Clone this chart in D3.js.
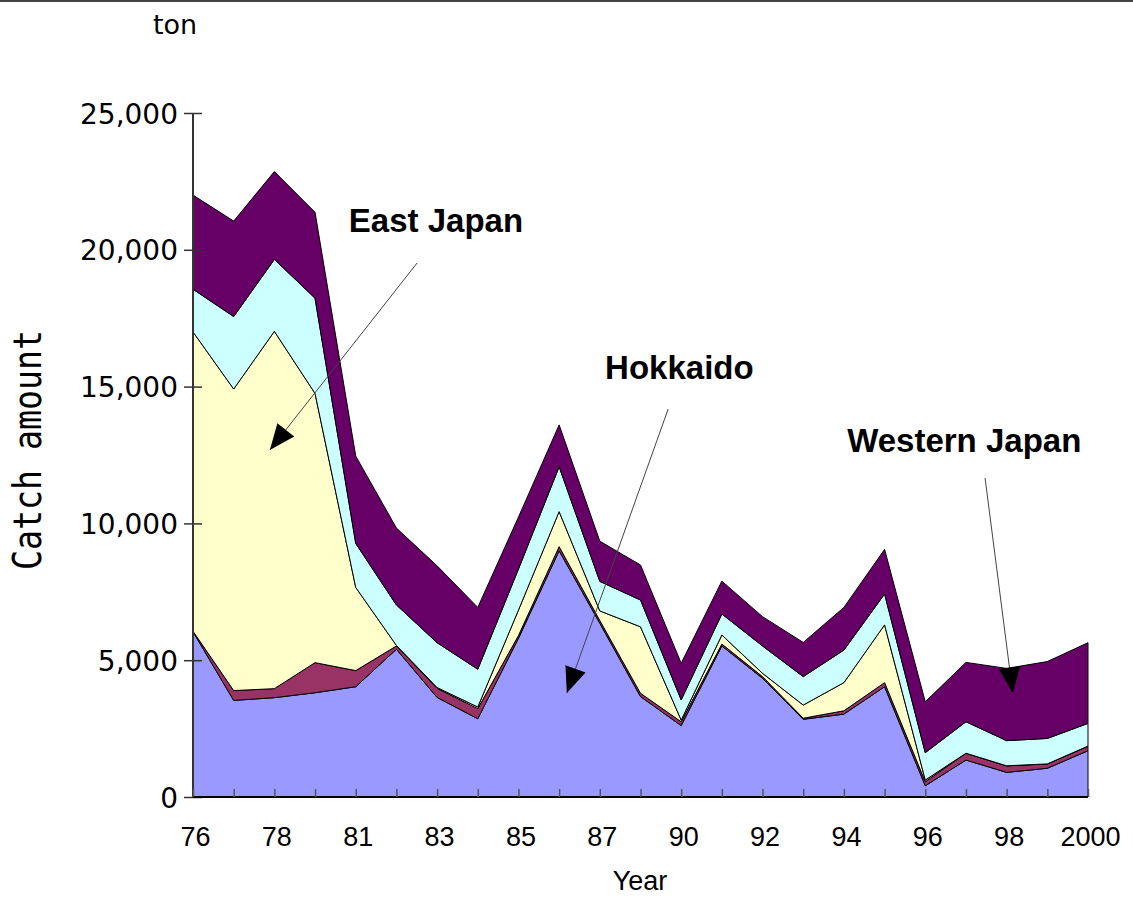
<!DOCTYPE html>
<html><head><meta charset="utf-8">
<script src="https://cdn.jsdelivr.net/npm/d3@7/dist/d3.min.js"></script>
<style>body{margin:0;background:#fff}svg{display:block}</style>
</head><body><svg id="c" width="1133" height="898"></svg>
<script>
// ---- data ----
const years = ["76","77","78","79","81","82","83","84","85","86","87","88","90","91","92","93","94","95","96","97","98","99","2000"];
const tickLabels = ["76","78","81","83","85","87","90","92","94","96","98","2000"];
const yTicks = [0, 5000, 10000, 15000, 20000, 25000];
const hokkaido     = [6040,3530,3630,3810,4030,5400,3640,2860,5800,9000,6350,3670,2610,5520,4340,2840,3030,4030,410,1350,900,1050,1690];
const otherA       = [20,360,330,1100,590,120,330,370,100,150,100,120,140,70,60,40,120,150,150,250,240,160,170];
const eastJapan    = [10940,11020,13060,9840,3040,20,30,60,930,1280,350,2430,60,330,120,480,1030,2110,60,0,0,0,0];
const otherB       = [1560,2650,2630,3480,1610,1480,1640,1380,1500,1640,1080,980,740,770,1000,1040,1190,1130,1000,1150,920,930,830];
const westernJapan = [3440,3490,3210,3140,3190,2810,2810,2260,1900,1530,1470,1280,1340,1200,1070,1250,1560,1630,1860,2170,2640,2810,2950];
const seriesKeys = ["Hokkaido","OtherA","East Japan","OtherB","Western Japan"];
const seriesValues = [hokkaido, otherA, eastJapan, otherB, westernJapan];
const colors = ["#9999FF","#993366","#FFFFCC","#CCFFFF","#660066"];
// annotations: label, label position (category index, value), line start, arrow tip
const annotations = [
  {text:"East Japan",    lx:[3.83, 20650], from:[5.51, 19520], to:[1.89, 12680]},
  {text:"Hokkaido",      lx:[10.13, 15280], from:[11.68, 14180], to:[9.19, 3800]},
  {text:"Western Japan", lx:[16.08, 12610], from:[19.47, 11660], to:[20.15, 3800]}
];

// ---- build ----
const table = years.map((yr, i) => {
  const o = {year: yr};
  seriesKeys.forEach((k, j) => o[k] = seriesValues[j][i]);
  return o;
});
const stacked = d3.stack().keys(seriesKeys)(table);

const svg = d3.select("#c");
const x = d3.scaleLinear().domain([0, years.length - 1]).range([193, 1088]);
const y = d3.scaleLinear().domain([0, 25000]).range([797, 113]);

// top frame line
svg.append("rect").attr("x",0).attr("y",0).attr("width",1133).attr("height",2).attr("fill","#444");

const area = d3.area().x((d, i) => x(i)).y0(d => y(d[0])).y1(d => y(d[1]));
svg.append("g").selectAll("path").data(stacked).join("path")
  .attr("d", area)
  .attr("fill", (d, i) => colors[i])
  .attr("stroke", "#000")
  .attr("stroke-width", 1)
  .attr("stroke-linejoin", "miter");

// y axis
const ya = svg.append("g").attr("transform", "translate(193,0)")
  .call(d3.axisLeft(y).tickValues(yTicks).tickSize(9).tickFormat(d3.format(",")));
ya.select(".domain").attr("stroke", "#333").attr("stroke-width", 2).attr("d", `M0,${y(25000)}V${y(0)}`);
ya.selectAll(".tick line").attr("x1", 9).attr("x2", -9).attr("stroke", "#333").attr("stroke-width", 1.5);
ya.selectAll(".tick text").attr("x", -15).attr("dy", "0.36em")
  .style("font-family", "'DejaVu Sans', sans-serif").style("font-size", "28px").attr("fill", "#000");

// x axis
const xa = svg.append("g").attr("transform", "translate(0,797)")
  .call(d3.axisBottom(x).tickValues(d3.range(years.length)).tickSize(-8)
    .tickFormat(i => tickLabels.includes(years[i]) ? years[i] : ""));
xa.select(".domain").attr("stroke", "#000").attr("stroke-width", 2).attr("d", `M${x(0)},0H${x(years.length-1)}`);
xa.selectAll(".tick line").attr("stroke", "#555").attr("stroke-width", 1.5);
xa.selectAll(".tick text").attr("y", 49).attr("dy", 0).attr("dx", 2)
  .style("font-family", "'Liberation Sans', Arial, sans-serif").style("font-size", "27px").attr("fill", "#000");

// axis titles
svg.append("text").attr("x", 640).attr("y", 890).attr("text-anchor", "middle")
  .style("font-family", "'Liberation Sans', Arial, sans-serif").style("font-size", "27px").text("Year");
svg.append("text").attr("x", 175).attr("y", 34).attr("text-anchor", "middle")
  .style("font-family", "'DejaVu Sans', sans-serif").style("font-size", "27px").text("ton");
svg.append("text").attr("transform", "translate(41,450) rotate(-90)").attr("text-anchor", "middle")
  .attr("textLength", 240).attr("lengthAdjust", "spacingAndGlyphs")
  .style("font-family", "'DejaVu Sans Mono', monospace").style("font-size", "39px").text("Catch amount");

// annotations
svg.append("defs").append("marker").attr("id", "arr")
  .attr("markerUnits", "userSpaceOnUse").attr("markerWidth", 30).attr("markerHeight", 30)
  .attr("viewBox", "-2 -12 28 24").attr("refX", 24).attr("refY", 0).attr("orient", "auto")
  .append("path").attr("d", "M0,-10L24,0L0,10Z").attr("fill", "#000");
const ag = svg.append("g");
annotations.forEach(a => {
  ag.append("line").attr("x1", x(a.from[0])).attr("y1", y(a.from[1]))
    .attr("x2", x(a.to[0])).attr("y2", y(a.to[1]))
    .attr("stroke", "#444").attr("stroke-width", 1).attr("marker-end", "url(#arr)");
  ag.append("text").attr("x", x(a.lx[0])).attr("y", y(a.lx[1]))
    .style("font-family", "'Liberation Sans', Arial, sans-serif").style("font-weight", "bold")
    .style("font-size", "33px").attr("fill", "#000").text(a.text);
});
</script></body></html>
